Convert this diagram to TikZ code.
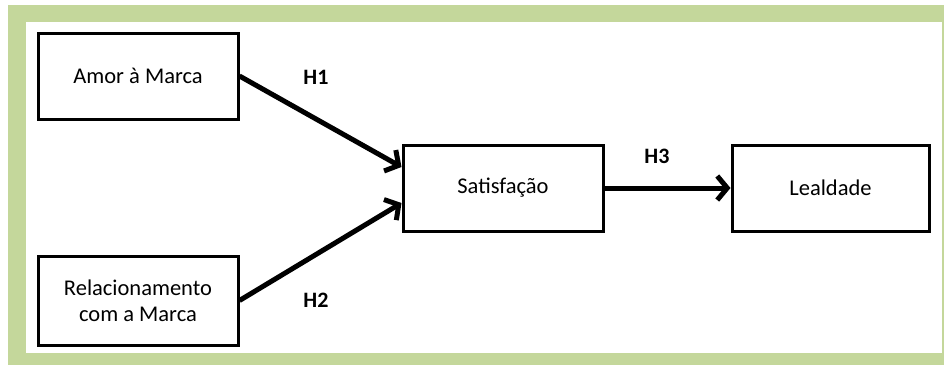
\documentclass[tikz,border=0pt]{standalone}
\usepackage{fontspec}
\setmainfont{Carlito}
\usepackage{xcolor}
\usepackage{tikz}
\usetikzlibrary{arrows.meta}

\definecolor{framegreen}{RGB}{196,215,155}

\begin{document}
\begin{tikzpicture}[x=1pt,y=-1pt,
    box/.style={draw,line width=3pt,minimum width=200pt,minimum height=86pt,
      align=center,font=\fontsize{22.5}{26}\selectfont},
    hyp/.style={font=\fontsize{22}{25}\selectfont\bfseries},
    link/.style={line width=5pt,-{Straight Barb[length=10pt,width=24pt]}}]
  \useasboundingbox (0,0) rectangle (944,365);
  \fill[framegreen] (8,5) rectangle (944,365);
  \fill[white] (26,22) rectangle (942,353);
  \node[box] (amor) at (138,76) {Amor à Marca};
  \node[box,minimum height=89pt] (rel) at (138,300.5) {Relacionamento\\com a Marca};
  \node[box] (sat) at (503,188) {Satisfação};
  \node[box,minimum width=197pt] (leal) at (830.5,188) {Lealdade};
  \draw[link] (amor.east) -- ([yshift=21pt]sat.west);
  \draw[link] (rel.east) -- ([yshift=-15pt]sat.west);
  \draw[link] (sat.east) -- (leal.west);
  \node[hyp] (h1) at (316,77) {H1};
  \node[hyp] (h2) at (316,300) {H2};
  \node[hyp] (h3) at (657,156) {H3};
\end{tikzpicture}
\end{document}
